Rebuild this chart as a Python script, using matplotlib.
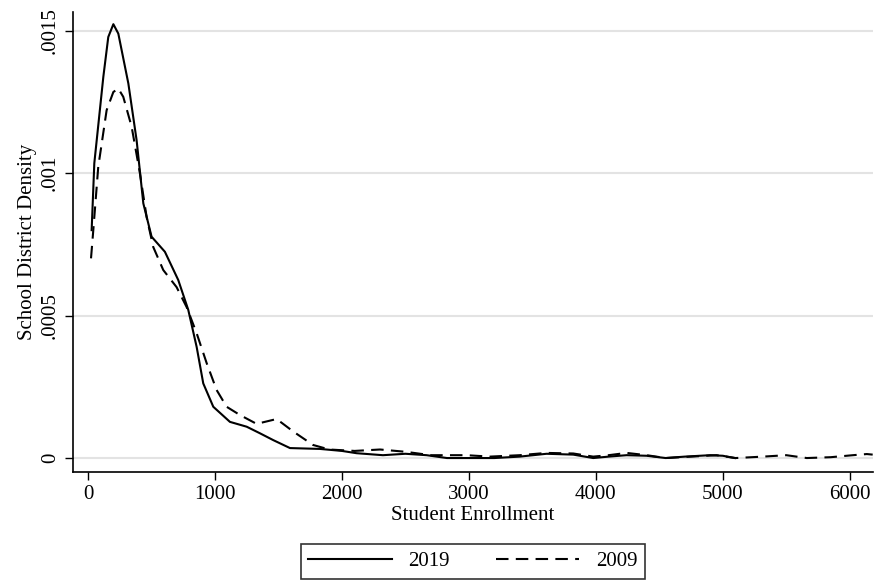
import numpy as np
import matplotlib
matplotlib.use("Agg")
import matplotlib.pyplot as plt

plt.rcParams['font.family'] = ['Liberation Serif', 'DejaVu Serif']

# kernel density of district enrollment
x2019 = [29, 50, 121, 160, 200, 239, 318, 383, 436, 501, 606, 711, 790, 856, 908,
         987, 1118, 1250, 1354, 1459, 1591, 1827, 2000, 2115, 2323, 2500, 2667,
         2827, 3000, 3200, 3400, 3612, 3822, 3979, 4100, 4242, 4400, 4550, 4700,
         4900, 5000, 5094]
d2019 = [0.00080, 0.001035, 0.001338, 0.001478, 0.001523, 0.00149, 0.001315,
         0.001116, 0.000894, 0.000777, 0.000724, 0.000625, 0.00052, 0.00039,
         0.000262, 0.00018, 0.000127, 0.00011, 0.000087, 0.000063, 0.000035,
         0.000032, 0.000025, 0.000017, 0.00001, 0.000015, 0.00001, 0.0, 0.0,
         0.0, 0.000005, 0.000015, 0.000012, 0.0, 0.000005, 0.00001, 0.000008,
         0.0, 0.000005, 0.00001, 0.000008, 0.0]

x2009 = [24, 42, 81, 147, 200, 239, 278, 344, 409, 462, 514, 593, 698, 777, 856,
         935, 1013, 1092, 1197, 1328, 1486, 1617, 1772, 1900, 2100, 2300, 2500,
         2700, 2982, 3165, 3400, 3612, 3822, 3979, 4100, 4242, 4400, 4550, 4750,
         4950, 5100, 5315, 5500, 5661, 5850, 6024, 6134, 6180]
d2009 = [0.000701, 0.0008, 0.001022, 0.001221, 0.001285, 0.001297, 0.001268,
         0.001163, 0.001, 0.000846, 0.000741, 0.00066, 0.0006, 0.00053, 0.000438,
         0.000333, 0.000239, 0.00018, 0.000151, 0.00012, 0.000137, 0.000093,
         0.000046, 0.00003, 0.000025, 0.00003, 0.000022, 0.00001, 0.00001,
         0.000005, 0.00001, 0.000018, 0.000016, 0.000005, 0.00001, 0.000018,
         0.00001, 0.0, 0.000005, 0.00001, 0.0, 0.000005, 0.00001, 0.0, 0.000003,
         0.00001, 0.000014, 0.000012]

xticks = [0, 1000, 2000, 3000, 4000, 5000, 6000]
yticks = [0, 0.0005, 0.001, 0.0015]
ylabels = ['0', '.0005', '.001', '.0015']

fig = plt.figure(figsize=(8.74, 5.82), dpi=100)
ax = fig.add_axes([0.0835, 0.189, 0.915, 0.790])

ax.plot(x2019, d2019, color='black', lw=1.5, label='2019')
ax.plot(x2009, d2009, color='black', lw=1.5, ls=(0, (6, 3.5)), label='2009')

ax.set_xlim(-118, 6180)
ax.set_ylim(-0.000049, 0.001565)
ax.set_xticks(xticks)
ax.set_yticks(yticks)
ax.set_yticklabels(ylabels, rotation=90, va='center')
ax.tick_params(labelsize=15, direction='out', length=6, width=1, colors='black')
ax.grid(axis='y', color='#e3e3e3', lw=1.5)
ax.set_axisbelow(True)
for s in ['top', 'right']:
    ax.spines[s].set_visible(False)
for s in ['left', 'bottom']:
    ax.spines[s].set_linewidth(1.2)

ax.set_xlabel('Student Enrollment', fontsize=15, labelpad=1)
ax.set_ylabel('School District Density', fontsize=15, labelpad=3)

leg = ax.legend(loc='upper center', bbox_to_anchor=(0.5, -0.135), ncol=2,
                fontsize=15, frameon=True, fancybox=False, handlelength=4.0,
                handletextpad=0.8, columnspacing=2.2, borderpad=0.35)
leg.get_frame().set_edgecolor('black')
leg.get_frame().set_linewidth(1.2)

fig.savefig('out.png', dpi=100)
